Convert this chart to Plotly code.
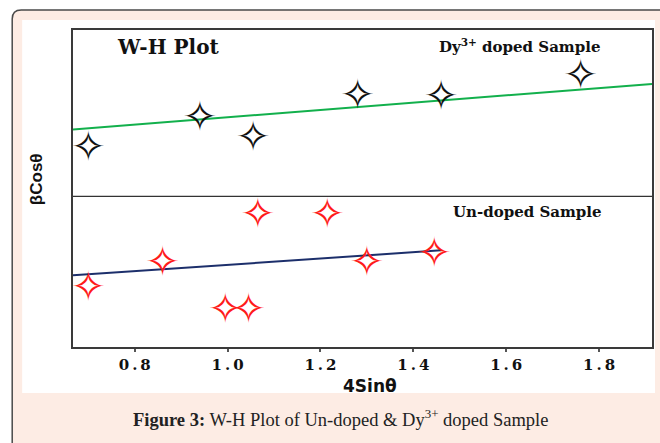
import plotly.graph_objects as go

# ---- data (arbitrary units for beta*cos(theta)) ----
dy_x = [0.70, 0.94, 1.055, 1.28, 1.46, 1.76]
dy_y = [6.35, 7.30, 6.67, 7.99, 7.96, 8.62]
un_x = [0.70, 0.86, 0.995, 1.045, 1.065, 1.215, 1.30, 1.445]
un_y = [1.95, 2.74, 1.26, 1.26, 4.25, 4.25, 2.74, 3.02]
fit_dy_x = [0.667, 1.914]
fit_dy_y = [6.86, 8.30]
fit_un_x = [0.667, 1.46]
fit_un_y = [2.26, 3.05]
tick_vals = [0.8, 1.0, 1.2, 1.4, 1.6, 1.8]
tick_text = ["0\u2009.\u20098", "1\u2009.\u20090", "1\u2009.\u20092", "1\u2009.\u20094", "1\u2009.\u20096", "1\u2009.\u20098"]
divider_y = 4.75
STAR = "\u2727"

W, H = 660, 443
L, R, T, B = 73, 654, 30, 347  # plot frame in pixels
Y_RANGE = [0, 10]
GLYPH_SHIFT_PX = 5  # text glyphs sit above their anchor; compensate on a twin axis
shift = GLYPH_SHIFT_PX * (Y_RANGE[1] - Y_RANGE[0]) / (B - T)

def px(x):
    return (x - L) / (R - L)

def py(y):
    return (B - y) / (B - T)

fig = go.Figure()
fig.add_trace(go.Scatter(x=fit_dy_x, y=fit_dy_y, mode="lines",
                         line=dict(color="#12b04c", width=2), hoverinfo="skip"))
fig.add_trace(go.Scatter(x=fit_un_x, y=fit_un_y, mode="lines",
                         line=dict(color="#1c2f6b", width=2), hoverinfo="skip"))
fig.add_trace(go.Scatter(x=dy_x, y=dy_y, mode="text", text=[STAR] * len(dy_x),
                         textposition="middle center", yaxis="y2",
                         textfont=dict(family="DejaVu Sans", size=42, color="#111")))
fig.add_trace(go.Scatter(x=un_x, y=un_y, mode="text", text=[STAR] * len(un_x),
                         textposition="middle center", yaxis="y2",
                         textfont=dict(family="DejaVu Sans", size=42, color="#ff1a1a")))

r = 9
shapes = [
    dict(type="path", xref="paper", yref="paper", layer="below",
         path=(f"M {px(12)} {py(470)} L {px(12)} {py(10 + r)} "
               f"Q {px(12)} {py(10)} {px(12 + r)} {py(10)} "
               f"L {px(680)} {py(10)} L {px(680)} {py(470)} Z"),
         fillcolor="#fdece4", line=dict(color="#4a4a4a", width=1.5)),
    dict(type="rect", xref="paper", yref="paper", layer="below",
         x0=px(22), x1=px(657), y0=py(393), y1=py(20),
         fillcolor="white", line=dict(width=0)),
    dict(type="line", xref="paper", yref="y", x0=0, x1=1, y0=divider_y, y1=divider_y,
         line=dict(color="#333", width=1.3)),
]

annotations = [
    dict(text="W-H Plot", x=px(115), y=py(47), xref="paper", yref="paper",
         xanchor="left", yanchor="middle", showarrow=False,
         font=dict(family="DejaVu Serif", size=20, color="#111", weight="bold")),
    dict(text="Dy<sup>3+</sup> doped Sample", x=px(521), y=py(46), xref="paper", yref="paper",
         xanchor="center", yanchor="middle", showarrow=False,
         font=dict(family="DejaVu Serif", size=15, color="#111", weight="bold")),
    dict(text="Un-doped Sample", x=px(529), y=py(212), xref="paper", yref="paper",
         xanchor="center", yanchor="middle", showarrow=False,
         font=dict(family="DejaVu Serif", size=15, color="#111", weight="bold")),
    dict(text="βCosθ", x=px(36), y=py(179), xref="paper", yref="paper",
         xanchor="center", yanchor="middle", showarrow=False, textangle=-90,
         font=dict(family="Liberation Sans", size=17, color="#111", weight="bold")),
    dict(text="4Sinθ", x=px(371), y=py(386), xref="paper", yref="paper",
         xanchor="center", yanchor="middle", showarrow=False,
         font=dict(family="DejaVu Sans", size=17, color="#111", weight="bold")),
    dict(text="<b>Figure 3:</b> W-H Plot of Un-doped &amp; Dy<sup>3+</sup> doped Sample",
         x=px(341), y=py(418), xref="paper", yref="paper",
         xanchor="center", yanchor="middle", showarrow=False,
         font=dict(family="Liberation Serif", size=18.5, color="#222")),
]

fig.update_layout(
    width=W, height=H,
    margin=dict(l=L, r=W - R, t=T, b=H - B),
    paper_bgcolor="white", plot_bgcolor="white",
    showlegend=False,
    shapes=shapes, annotations=annotations,
    xaxis=dict(range=[0.667, 1.914], tickvals=tick_vals, ticktext=tick_text,
               showgrid=False, zeroline=False, showline=True, mirror=True,
               linecolor="#3a3a3a", linewidth=1.5,
               ticks="outside", ticklen=3, tickcolor="#555", tickwidth=1.5,
               tickfont=dict(family="DejaVu Serif", size=15, color="#111", weight="bold")),
    yaxis=dict(range=Y_RANGE, showticklabels=False, showgrid=False, zeroline=False,
               showline=True, mirror=True, linecolor="#3a3a3a", linewidth=1.5, ticks=""),
    yaxis2=dict(range=[Y_RANGE[0] + shift, Y_RANGE[1] + shift], overlaying="y",
                visible=False, showgrid=False, zeroline=False),
)

fig.write_html("out.html")
